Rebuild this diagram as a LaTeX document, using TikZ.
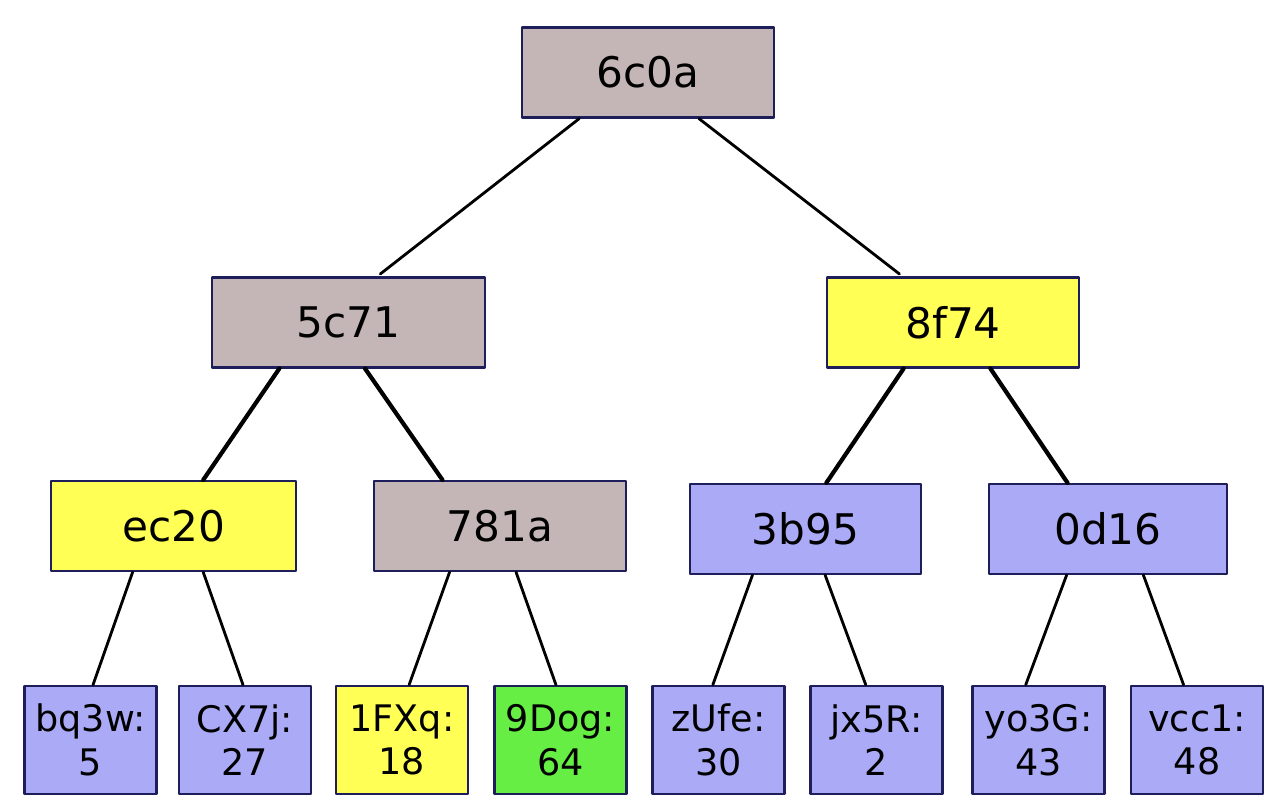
\documentclass[tikz,border=0pt]{standalone}
\usepackage{fontspec}
\setmainfont{DejaVu Sans}
\usetikzlibrary{calc}
\definecolor{hashgrey}{HTML}{C4B6B6}
\definecolor{hashyellow}{HTML}{FFFF55}
\definecolor{hashblue}{HTML}{AAAAF6}
\definecolor{hashgreen}{HTML}{66EE44}
\definecolor{boxline}{HTML}{1E1E5A}
\begin{document}
\begin{tikzpicture}[x=0.025cm,y=-0.025cm, line join=round, line cap=round,
    hash/.style={draw=boxline, line width=1.8pt, inner sep=0pt, minimum height=2.24cm,
        font=\fontsize{30}{34}\selectfont},
    leaf/.style={draw=boxline, line width=1.8pt, inner sep=0pt, minimum width=3.3cm,
        minimum height=2.7cm, align=center, fill=hashblue,
        font=\fontsize{26}{31}\selectfont}]
    \useasboundingbox[fill=white] (0,0) rectangle (1280,810);
    % hash nodes
    \node[hash, fill=hashgrey, minimum width=6.3cm] (h6c0a) at (648,72.5) {6c0a};
    \node[hash, fill=hashgrey, minimum width=6.825cm] (h5c71) at (348.5,322.5) {5c71};
    \node[hash, fill=hashyellow, minimum width=6.3cm] (h8f74) at (953,322.5) {8f74};
    \node[hash, fill=hashyellow, minimum width=6.125cm] (hec20) at (173.5,526) {ec20};
    \node[hash, fill=hashgrey, minimum width=6.3cm] (h781a) at (500,526) {781a};
    \node[hash, fill=hashblue, minimum width=5.775cm] (h3b95) at (805.5,529) {3b95};
    \node[hash, fill=hashblue, minimum width=5.95cm] (h0d16) at (1108,529) {0d16};
    % leaves
    \node[leaf] (bq3w) at (90.5,740) {bq3w:\\5};
    \node[leaf] (cx7j) at (245,740) {CX7j:\\27};
    \node[leaf, fill=hashyellow] (fxq) at (402,740) {1FXq:\\18};
    \node[leaf, fill=hashgreen] (dog) at (560.5,740) {9Dog:\\64};
    \node[leaf] (zufe) at (718.5,740) {zUfe:\\30};
    \node[leaf] (jx5r) at (876.5,740) {jx5R:\\2};
    \node[leaf] (yo3g) at (1038.5,740) {yo3G:\\43};
    \node[leaf] (vcc1) at (1197,740) {vcc1:\\48};
    % edges
    \foreach \a/\fa/\b/\fb in {h6c0a/0.23/h5c71/0.604, h6c0a/0.70/h8f74/0.302}
    \draw[line width=2pt, shorten >=0.1cm] ($(\a.south west)!\fa!(\a.south east)$)
        -- ($(\b.north west)!\fb!(\b.north east)$);
    \foreach \a/\fa/\b/\fb in {h5c71/0.249/hec20/0.620, h5c71/0.560/h781a/0.274,
        h8f74/0.306/h3b95/0.589, h8f74/0.647/h0d16/0.332}
    \draw[line width=3pt] ($(\a.south west)!\fa!(\a.south east)$)
        -- ($(\b.north west)!\fb!(\b.north east)$);
    \foreach \a/\fa/\b/\fb in {hec20/0.335/bq3w/0.519, hec20/0.620/cx7j/0.485,
        h781a/0.302/fxq/0.553, h781a/0.563/dog/0.466,
        h3b95/0.273/zufe/0.458, h3b95/0.584/jx5r/0.420,
        h0d16/0.328/yo3g/0.405, h0d16/0.647/vcc1/0.40}
    \draw[line width=2pt] ($(\a.south west)!\fa!(\a.south east)$)
        -- ($(\b.north west)!\fb!(\b.north east)$);
\end{tikzpicture}
\end{document}
